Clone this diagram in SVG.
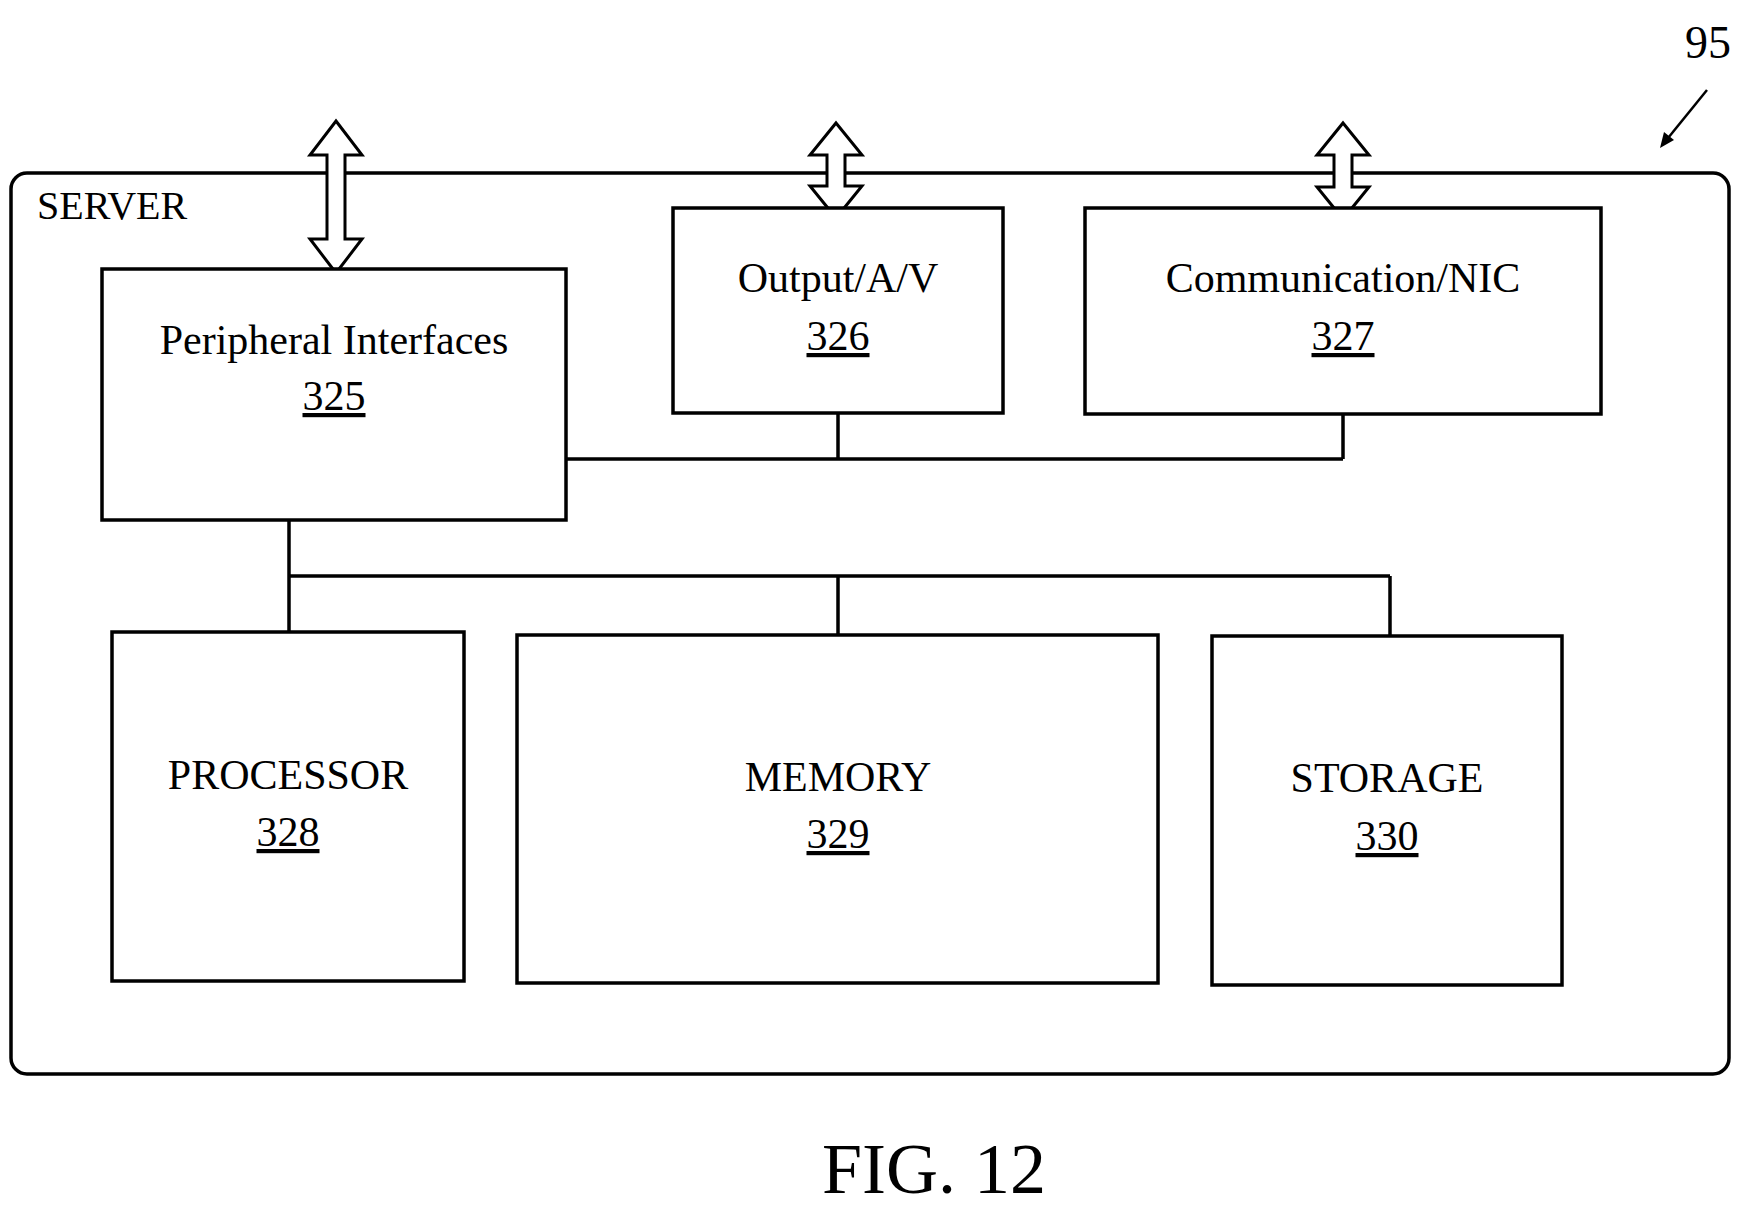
<svg xmlns="http://www.w3.org/2000/svg" width="1746" height="1212" viewBox="0 0 1746 1212">
<style>
.b{fill:#fff;stroke:#000;stroke-width:3.5}
.l{fill:none;stroke:#000;stroke-width:3.5}
.t{font-family:"Liberation Serif",serif;font-size:42px;text-anchor:middle;fill:#000}
.n{text-decoration:underline}
.a{fill:#fff;stroke:#000;stroke-width:3}
</style>
<rect width="1746" height="1212" fill="#fff"/>
<g id="server"><rect x="11" y="173" width="1718" height="901" rx="16" class="b"/>
<text x="37" y="219" font-family="Liberation Serif,serif" font-size="40">SERVER</text></g>
<g id="ref95"><text x="1708" y="58" class="t" style="font-size:46px">95</text>
<line x1="1707" y1="90" x2="1664" y2="143" stroke="#000" stroke-width="2.5"/>
<path d="M1660,148 L1664,132 L1674,140 Z" fill="#000"/></g>
<g id="connectors">
<path class="l" d="M566,459 H1343 M838,413 V459 M1343,414 V459"/>
<path class="l" d="M289,520 V576 M289,576 H1390 M289,576 V632 M838,576 V635 M1390,576 V636"/>
<path class="a" d="M336,121 L362,155 L345,155 L345,239 L362,239 L336,273 L310,239 L327,239 L327,155 L310,155 Z"/>
<path class="a" d="M836,123 L862,155 L845,155 L845,186 L862,186 L836,218 L810,186 L827,186 L827,155 L810,155 Z"/>
<path class="a" d="M1343,123 L1369,155 L1352,155 L1352,187 L1369,187 L1343,219 L1317,187 L1334,187 L1334,155 L1317,155 Z"/>
</g>
<g id="peripheral"><rect x="102" y="269" width="464" height="251" class="b"/>
<text x="334" y="354" class="t">Peripheral Interfaces</text><text x="334" y="410" class="t n">325</text></g>
<g id="output"><rect x="673" y="208" width="330" height="205" class="b"/>
<text x="838" y="292" class="t">Output/A/V</text><text x="838" y="350" class="t n">326</text></g>
<g id="comm"><rect x="1085" y="208" width="516" height="206" class="b"/>
<text x="1343" y="292" class="t">Communication/NIC</text><text x="1343" y="350" class="t n">327</text></g>
<g id="processor"><rect x="112" y="632" width="352" height="349" class="b"/>
<text x="288" y="789" class="t">PROCESSOR</text><text x="288" y="846" class="t n">328</text></g>
<g id="memory"><rect x="517" y="635" width="641" height="348" class="b"/>
<text x="838" y="791" class="t">MEMORY</text><text x="838" y="848" class="t n">329</text></g>
<g id="storage"><rect x="1212" y="636" width="350" height="349" class="b"/>
<text x="1387" y="792" class="t">STORAGE</text><text x="1387" y="850" class="t n">330</text></g>
<text x="934" y="1193" class="t" style="font-size:72px">FIG. 12</text>
</svg>
